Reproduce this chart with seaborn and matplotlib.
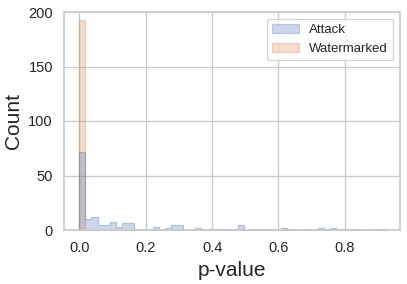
import numpy as np
import pandas as pd
import matplotlib
matplotlib.use("Agg")
import matplotlib.pyplot as plt
from matplotlib.colors import to_rgba
import seaborn as sns

# Histogram data (50 bins spanning 0 .. 0.92)
bin_lo = 0.0
bin_hi = 0.92
n_bins = 50
attack_counts = [72, 10, 12, 5, 5, 7, 3, 6, 6, 1,
                 0, 0, 3, 0, 2, 5, 5, 0, 1, 2,
                 0, 1, 1, 1, 1, 1, 5, 0, 1, 1,
                 1, 1, 0, 2, 1, 0, 0, 1, 0, 2,
                 1, 2, 1, 1, 0, 1, 0, 0, 1, 1]
watermarked_counts = [193, 0, 1, 0, 0, 0, 0, 0, 0, 0,
                      0, 0, 0, 0, 0, 0, 0, 0, 0, 0,
                      0, 0, 1, 0, 0, 0, 0, 0, 0, 0,
                      0, 0, 0, 0, 0, 0, 0, 0, 0, 0,
                      0, 0, 0, 0, 0, 0, 0, 0, 0, 0]
groups = ["Attack", "Watermarked"]

edges = np.linspace(bin_lo, bin_hi, n_bins + 1)
centers = (edges[:-1] + edges[1:]) / 2
df = pd.DataFrame({
    "p-value": np.concatenate([centers, centers]),
    "w": np.concatenate([attack_counts, watermarked_counts]),
    "group": [groups[0]] * n_bins + [groups[1]] * n_bins,
})

sns.set_theme(style="whitegrid")
plt.rcParams["font.family"] = ["Liberation Sans", "DejaVu Sans"]

fig = plt.figure(figsize=(4.07, 2.84), dpi=100)
ax = fig.add_axes([64 / 407, 1 - 230 / 284, (400 - 64) / 407, (230 - 12) / 284])
sns.histplot(data=df, x="p-value", weights="w", hue="group", hue_order=groups,
             bins=n_bins, binrange=(bin_lo, bin_hi), element="step", ax=ax,
             alpha=0.28, linewidth=0.9, legend=True)

pal = sns.color_palette()
for coll in ax.collections:
    fc = coll.get_facecolor()[0]
    coll.set_edgecolor(to_rgba(fc[:3], 0.35))

ax.set_ylim(0, 200)
ax.set_yticks([0, 50, 100, 150, 200])
ax.set_xlabel("p-value", fontsize=15)
ax.set_ylabel("Count", fontsize=15)
ax.tick_params(labelsize=10.5, pad=2)
sns.move_legend(ax, "upper right", title=None, fontsize=9.5)
leg = ax.get_legend()
for h in leg.legend_handles:
    fc = h.get_facecolor()
    h.set_edgecolor(to_rgba(fc[:3], 0.3))
fig.savefig("out.png", dpi=100)
